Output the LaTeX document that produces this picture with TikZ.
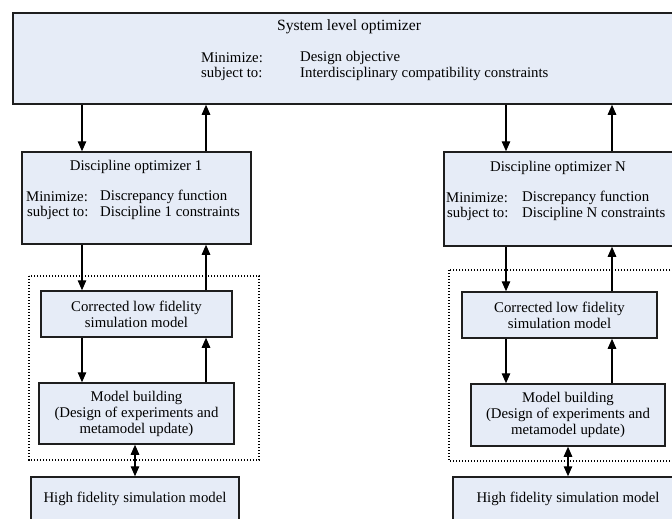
\documentclass[tikz,border=0pt]{standalone}
\usepackage{fontspec}
\setmainfont{Liberation Serif}
\usetikzlibrary{arrows.meta}
\definecolor{boxfill}{RGB}{230,236,247}
\definecolor{boxline}{RGB}{30,30,30}
\tikzset{
  blk/.style={draw=boxline, fill=boxfill, line width=1.5pt, rectangle, inner sep=0pt},
  dotbox/.style={draw=black, line width=1.3pt, dash pattern=on 1.4pt off 1.6pt},
  arr/.style={draw=black, line width=1.3pt, -{Triangle[width=8.5pt,length=10pt]}},
  darr/.style={draw=black, line width=1.3pt, {Triangle[width=8.5pt,length=10pt]}-{Triangle[width=8.5pt,length=10pt]}},
  txt/.style={inner sep=0pt, font=\fontsize{14.8}{16}\selectfont},
  ctxt/.style={txt, align=center},
}
\newcommand{\blkbox}[5]{\node[blk, minimum width={#4-#2}, minimum height={#5-#3}] (#1) at ({(#2+#4)/2},{(#3+#5)/2}) {};}
\begin{document}
\begin{tikzpicture}[x=1pt,y=-1pt]
\useasboundingbox (0,0) rectangle (672,519);
\clip (0,0) rectangle (672,519);
% dotted groups
\draw[dotbox] (29,276) rectangle (259,460);
\draw[dotbox] (449,270) rectangle (700,461);
% boxes
\blkbox{sys}{13}{13}{675}{104}
\blkbox{d1}{22}{152}{251}{244}
\blkbox{dN}{444}{152}{675}{246}
\blkbox{c1}{41}{291}{232}{337}
\blkbox{cN}{462}{292}{657}{338}
\blkbox{m1}{39}{383}{234}{444}
\blkbox{mN}{471}{384}{665}{446}
\blkbox{h1}{31}{477}{239}{540}
\blkbox{hN}{453}{477}{684}{540}
% texts system
\node[txt, font=\fontsize{15.6}{17}\selectfont] (systitle) at (349,27) {System level optimizer};
\node[txt, anchor=west] (sysmin) at (201,58) {Minimize:};
\node[txt, anchor=west] (sysobj) at (300,58) {Design objective};
\node[txt, anchor=west] (syssub) at (201,74) {subject to:};
\node[txt, anchor=west] (syscon) at (300,74) {Interdisciplinary compatibility constraints};
% discipline 1
\node[txt] (d1title) at (136,167) {Discipline optimizer 1};
\node[txt, anchor=west] (d1min) at (26,197) {Minimize:};
\node[txt, anchor=west] (d1obj) at (100,197) {Discrepancy function};
\node[txt, anchor=west] (d1sub) at (27,213) {subject to:};
\node[txt, anchor=west] (d1con) at (100,213) {Discipline 1 constraints};
% discipline N
\node[txt] (dNtitle) at (558,168) {Discipline optimizer N};
\node[txt, anchor=west] (dNmin) at (446,198) {Minimize:};
\node[txt, anchor=west] (dNobj) at (522,198) {Discrepancy function};
\node[txt, anchor=west] (dNsub) at (447,214) {subject to:};
\node[txt, anchor=west] (dNcon) at (522,214) {Discipline N constraints};
% inner texts
\node[ctxt] (c1t) at (c1.center) {Corrected low fidelity\\simulation model};
\node[ctxt] (cNt) at (cN.center) {Corrected low fidelity\\simulation model};
\node[ctxt] (m1t) at (m1.center) {Model building\\(Design of experiments and\\metamodel update)};
\node[ctxt] (mNt) at (mN.center) {Model building\\(Design of experiments and\\metamodel update)};
\node[txt] (h1t) at (135,499) {High fidelity simulation model};
\node[txt] (hNt) at (568,499) {High fidelity simulation model};
% arrows left
\draw[arr] (sys.south -| 82,0) -- (d1.north -| 82,0);
\draw[arr] (d1.north -| 206,0) -- (sys.south -| 206,0);
\draw[arr] (d1.south -| 82,0) -- (c1.north -| 82,0);
\draw[arr] (c1.north -| 206,0) -- (d1.south -| 206,0);
\draw[arr] (c1.south -| 82,0) -- (m1.north -| 82,0);
\draw[arr] (m1.north -| 206,0) -- (c1.south -| 206,0);
\draw[darr] (m1.south -| 135,0) -- (h1.north -| 135,0);
% arrows right
\draw[arr] (sys.south -| 506,0) -- (dN.north -| 506,0);
\draw[arr] (dN.north -| 612,0) -- (sys.south -| 612,0);
\draw[arr] (dN.south -| 506,0) -- (cN.north -| 506,0);
\draw[arr] (cN.north -| 612,0) -- (dN.south -| 612,0);
\draw[arr] (cN.south -| 506,0) -- (mN.north -| 506,0);
\draw[arr] (mN.north -| 612,0) -- (cN.south -| 612,0);
\draw[darr] (mN.south -| 568,0) -- (hN.north -| 568,0);
\end{tikzpicture}
\end{document}
